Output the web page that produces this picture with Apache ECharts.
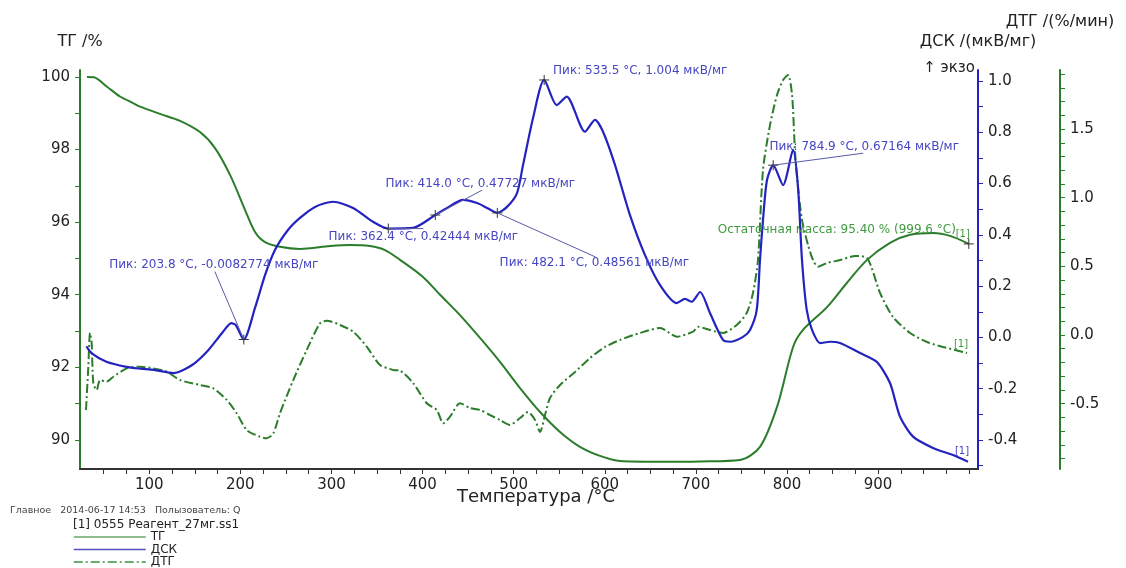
<!DOCTYPE html>
<html>
<head>
<meta charset="utf-8">
<script src="https://cdn.jsdelivr.net/npm/echarts@6.0.0/dist/echarts.min.js"></script>
<style>
  html, body { margin: 0; padding: 0; background: #ffffff; }
  #chart { width: 1126px; height: 568px; }
</style>
</head>
<body>
<div id="chart"></div>
<script>
// ---- Thermal analysis curves (temperature in °C) ----
// TG, mass %
const tgT = [31.7, 39.4, 53.6, 67.9, 82.2, 89.9, 111.8, 133.8, 155.7, 172.2, 188.7, 205.1, 216.1, 227.1, 243.5, 265.5, 298.4, 320.4, 342.3, 358.8, 375.3, 400.5, 419.2, 441.1, 463.1, 485.0, 507.0, 529.0, 550.9, 572.8, 594.8, 616.8, 660.7, 704.6, 748.5, 770.4, 789.1, 806.7, 817.6, 844.0, 865.9, 887.9, 913.1, 935.1, 960.3, 979.0, 999.6];
const tgV = [100.0, 99.99, 99.73, 99.46, 99.28, 99.18, 98.98, 98.79, 98.48, 98.04, 97.30, 96.34, 95.73, 95.45, 95.32, 95.26, 95.34, 95.37, 95.34, 95.23, 94.96, 94.49, 94.0, 93.44, 92.81, 92.15, 91.43, 90.77, 90.22, 89.81, 89.56, 89.42, 89.40, 89.41, 89.45, 89.81, 90.91, 92.56, 93.03, 93.66, 94.33, 94.96, 95.43, 95.65, 95.70, 95.62, 95.40];

// DSC, µV/mg
const dscT = [31, 37, 53, 75, 90, 105, 127, 135, 150, 165, 180, 190, 195, 203.8, 216.1, 227.1, 238.0, 252.3, 265.5, 282.0, 301.7, 323.7, 345.6, 362.4, 389.5, 414.0, 426.9, 444.4, 459.8, 470.8, 482.1, 492.7, 503.7, 510.3, 521.3, 533.5, 547.3, 558.2, 578.3, 589.3, 598.1, 611.3, 627.7, 644.2, 660.7, 679.0, 688.1, 695.5, 704.6, 715.5, 729.8, 737.5, 751.8, 759.5, 766.8, 770.4, 773.7, 778.1, 784.9, 795.7, 806.7, 812.1, 816.5, 821.7, 827.5, 836.3, 847.3, 858.2, 880.2, 898.5, 913.1, 924.1, 938.4, 960.3, 982.3, 998.7];
const dscV = [-0.035, -0.062, -0.095, -0.115, -0.122, -0.127, -0.139, -0.131, -0.10, -0.049, 0.017, 0.056, 0.048, -0.0082774, 0.115, 0.243, 0.341, 0.419, 0.466, 0.509, 0.529, 0.505, 0.451, 0.42444, 0.427, 0.47727, 0.505, 0.536, 0.524, 0.505, 0.48561, 0.509, 0.563, 0.672, 0.856, 1.004, 0.906, 0.939, 0.802, 0.848, 0.802, 0.672, 0.477, 0.321, 0.204, 0.134, 0.150, 0.139, 0.177, 0.095, -0.010, -0.017, 0.002, 0.029, 0.107, 0.302, 0.458, 0.614, 0.67164, 0.594, 0.731, 0.587, 0.302, 0.107, 0.029, -0.022, -0.017, -0.022, -0.061, -0.095, -0.178, -0.309, -0.387, -0.431, -0.459, -0.485];

// DTG, %/min
const dtgT = [30.6, 33.1, 35.0, 36.8, 38.6, 42.3, 46.0, 53.3, 60.6, 75.3, 89.9, 104.5, 119.2, 133.8, 155.7, 170.3, 185.0, 196.0, 207.0, 221.6, 228.9, 236.2, 243.5, 258.1, 272.9, 287.4, 294.8, 309.4, 324.0, 338.7, 353.3, 367.9, 375.3, 389.9, 404.6, 415.6, 422.8, 430.1, 441.1, 452.1, 463.1, 474.1, 485.0, 496.0, 507.0, 515.8, 523.5, 529.0, 534.4, 539.9, 550.9, 567.4, 583.8, 600.3, 616.8, 638.7, 660.7, 679.0, 696.9, 702.4, 715.5, 729.8, 744.9, 755.8, 762.7, 768.2, 773.7, 781.4, 789.1, 795.7, 801.2, 805.6, 808.9, 812.1, 816.5, 823.1, 828.6, 834.1, 843.9, 858.3, 874.7, 887.9, 902.2, 916.4, 935.1, 953.7, 971.3, 997.6];
const dtgV = [-0.546, -0.233, 0.015, -0.058, -0.350, -0.401, -0.328, -0.340, -0.304, -0.243, -0.231, -0.243, -0.267, -0.328, -0.364, -0.388, -0.473, -0.570, -0.692, -0.741, -0.752, -0.716, -0.570, -0.328, -0.109, 0.085, 0.104, 0.073, 0.024, -0.085, -0.218, -0.255, -0.260, -0.352, -0.497, -0.546, -0.643, -0.595, -0.497, -0.532, -0.546, -0.583, -0.619, -0.655, -0.605, -0.561, -0.619, -0.706, -0.583, -0.459, -0.364, -0.269, -0.168, -0.087, -0.036, 0.015, 0.051, -0.012, 0.024, 0.060, 0.036, 0.015, 0.073, 0.160, 0.306, 0.546, 1.202, 1.529, 1.748, 1.857, 1.894, 1.748, 1.326, 1.078, 0.838, 0.656, 0.546, 0.497, 0.524, 0.546, 0.575, 0.561, 0.306, 0.131, 0.015, -0.051, -0.087, -0.131];

// DSC peak temperatures that carry a "Пик" annotation
const peakTemps = [203.8, 362.4, 414.0, 482.1, 533.5, 784.9];

// Axis tick values
const xTickLabels = [100, 200, 300, 400, 500, 600, 700, 800, 900];
const xMinorTicks = [50, 75, 100, 125, 150, 175, 200, 225, 250, 275, 300, 325, 350, 375, 400, 425, 450, 475, 500, 525, 550, 575, 600, 625, 650, 675, 700, 725, 750, 775, 800, 825, 850, 875, 900, 925, 950, 975, 1000];
const tgTickLabels = [90, 92, 94, 96, 98, 100];
const tgTicks = [90, 91, 92, 93, 94, 95, 96, 97, 98, 99, 100];
const dscTickLabels = [-0.4, -0.2, 0.0, 0.2, 0.4, 0.6, 0.8, 1.0];
const dscTicks = [-0.5, -0.4, -0.3, -0.2, -0.1, 0.0, 0.1, 0.2, 0.3, 0.4, 0.5, 0.6, 0.7, 0.8, 0.9, 1.0];
const dtgTickLabels = [-0.5, 0.0, 0.5, 1.0, 1.5];
const dtgTicks = [-0.9, -0.8, -0.7, -0.6, -0.5, -0.4, -0.3, -0.2, -0.1, 0.0, 0.1, 0.2, 0.3, 0.4, 0.5, 0.6, 0.7, 0.8, 0.9, 1.0, 1.1, 1.2, 1.3, 1.4, 1.5, 1.6, 1.7, 1.8, 1.9];

// ---- styling ----
const FONT = 'DejaVu Sans';
const GREEN = '#2b7d2b';
const BLUE = '#2323c0';
const NOTE_BLUE = '#4646c4';
const NOTE_GREEN = '#3f9a3f';

// label placement (pixel offsets from the marker) for each peak note
const peakLayout = {
  203.8: { label: [-30, -75], leader: [-29, -68] },
  362.4: { label: [35, 8], leader: [35, 0] },
  414.0: { label: [45, -31], leader: [47, -25] },
  482.1: { label: [97, 50], leader: [98, 44] },
  533.5: { label: [96, -9], leader: null },
  784.9: { label: [91, -18], leader: [90, -12] }
};

const pair = (xs, ys) => xs.map((x, i) => [x, ys[i]]);
const tgData = pair(tgT, tgV);
const dscData = pair(dscT, dscV);
const dtgData = pair(dtgT, dtgV);

const crossSymbol = 'path://M0,5L10,5M5,0L5,10';

const peakPoints = peakTemps.map(t => {
  const v = dscV[dscT.indexOf(t)];
  const lay = peakLayout[t];
  return {
    coord: [t, v],
    label: {
      formatter: 'Пик: ' + t.toFixed(1) + ' °C, ' + String(v) + ' мкВ/мг',
      offset: lay.label
    }
  };
});

const lastTG = tgData[tgData.length - 1];

const chart = echarts.init(document.getElementById('chart'), null, { renderer: 'canvas' });

function yAxisCommon(color, labels, ticks, fmt, margin) {
  return {
    type: 'value',
    splitLine: { show: false },
    axisLine: { show: true, onZero: false, lineStyle: { color: color, width: 2 } },
    axisTick: { show: true, inside: false, length: 5, customValues: ticks, lineStyle: { color: color, width: 1 } },
    axisLabel: { show: true, customValues: labels, formatter: fmt, margin: margin, color: '#222', fontSize: 15, fontFamily: FONT },
    nameTextStyle: { color: '#222', fontSize: 16, fontFamily: FONT }
  };
}

const option = {
  animation: false,
  backgroundColor: '#ffffff',
  textStyle: { fontFamily: FONT },
  grid: { left: 80, right: 148, top: 70, bottom: 99, containLabel: false },
  xAxis: {
    type: 'value',
    min: 24,
    max: 1009.7,
    name: 'Температура /°C',
    nameLocation: 'middle',
    nameGap: 19,
    nameMoveOverlap: false,
    nameTextStyle: { color: '#222', fontSize: 18, fontFamily: FONT, padding: [0, 0, 0, 14] },
    splitLine: { show: false },
    axisLine: { show: true, onZero: false, lineStyle: { color: '#333', width: 2 } },
    axisTick: { show: true, length: 5, customValues: xMinorTicks, lineStyle: { color: '#333', width: 1 } },
    axisLabel: { customValues: xTickLabels, margin: 9, color: '#222', fontSize: 15, fontFamily: FONT }
  },
  yAxis: [
    Object.assign(yAxisCommon(GREEN, tgTickLabels, tgTicks, v => String(Math.round(v)), 10), {
      min: 89.2, max: 100.19, position: 'left',
      name: 'ТГ /%', nameLocation: 'end', nameGap: 20
    }),
    Object.assign(yAxisCommon(BLUE, dscTickLabels, dscTicks, v => v.toFixed(1), 10), {
      min: -0.5133, max: 1.0429, position: 'right', offset: 0,
      name: 'ДСК /(мкВ/мг)', nameLocation: 'end', nameGap: 20
    }),
    Object.assign(yAxisCommon(GREEN, dtgTickLabels, dtgTicks, v => v.toFixed(1), 10), {
      min: -0.976, max: 1.93, position: 'right', offset: 82,
      name: 'ДТГ /(%/мин)', nameLocation: 'end', nameGap: 40
    })
  ],
  legend: {
    orient: 'vertical',
    left: 73,
    top: 531,
    itemWidth: 72,
    itemHeight: 10,
    itemGap: 0.5,
    padding: 0,
    selectedMode: false,
    itemStyle: { opacity: 0 },
    textStyle: { color: '#222', fontSize: 12, lineHeight: 11, fontFamily: FONT },
    data: [
      { name: 'ТГ', itemStyle: { opacity: 0 }, lineStyle: { color: '#6aaa6a', width: 1.5 } },
      { name: 'ДСК', itemStyle: { opacity: 0 }, lineStyle: { color: '#5252c4', width: 1.5 } },
      { name: 'ДТГ', itemStyle: { opacity: 0 }, lineStyle: { color: '#3f8f3f', width: 1.5 } }
    ]
  },
  series: [
    {
      name: 'ДТГ',
      type: 'line',
      yAxisIndex: 2,
      data: dtgData,
      symbol: 'none',
      smooth: 0.25,
      silent: true,
      z: 2,
      lineStyle: { color: GREEN, width: 2, type: [9, 3, 2, 3] },
      itemStyle: { color: GREEN },
      endLabel: { show: true, formatter: '[1]', color: NOTE_GREEN, fontSize: 10, distance: 0, align: 'center', offset: [-6, -9] }
    },
    {
      name: 'ТГ',
      type: 'line',
      yAxisIndex: 0,
      data: tgData,
      symbol: 'none',
      smooth: 0.3,
      silent: true,
      z: 3,
      lineStyle: { color: GREEN, width: 2 },
      itemStyle: { color: GREEN },
      endLabel: { show: true, formatter: '[1]', color: NOTE_GREEN, fontSize: 10, distance: 0, align: 'center', offset: [-6, -9] },
      markPoint: {
        silent: true,
        symbol: crossSymbol,
        symbolSize: 10,
        itemStyle: { color: 'none', borderColor: '#333', borderWidth: 1 },
        label: {
          show: true, position: 'inside', align: 'center', verticalAlign: 'middle',
          color: NOTE_GREEN, fontSize: 12, fontFamily: FONT
        },
        data: [{
          coord: lastTG,
          label: {
            formatter: 'Остаточная масса: ' + lastTG[1].toFixed(2) + ' % (' + lastTG[0].toFixed(1) + ' °C)',
            offset: [-132, -14]
          }
        }]
      }
    },
    {
      name: 'ДСК',
      type: 'line',
      yAxisIndex: 1,
      data: dscData,
      symbol: 'none',
      smooth: 0.25,
      silent: true,
      z: 4,
      lineStyle: { color: BLUE, width: 2.2 },
      itemStyle: { color: BLUE },
      endLabel: { show: true, formatter: '[1]', color: NOTE_BLUE, fontSize: 10, distance: 0, align: 'center', offset: [-6, -10] },
      markPoint: {
        silent: true,
        symbol: crossSymbol,
        symbolSize: 10,
        itemStyle: { color: 'none', borderColor: '#333', borderWidth: 1 },
        label: {
          show: true, position: 'inside', align: 'center', verticalAlign: 'middle',
          color: NOTE_BLUE, fontSize: 12, fontFamily: FONT
        },
        data: peakPoints
      }
    }
  ]
};

chart.setOption(option);

// Static captions plus leader lines from each DSC peak marker to its note
const graphics = [
  {
    type: 'text', x: 975, y: 68,
    style: { text: '↑ экзо', font: '15px "' + FONT + '"', fill: '#222', align: 'right', verticalAlign: 'middle' }
  },
  {
    type: 'text', x: 10, y: 511,
    style: { text: 'Главное   2014-06-17 14:53   Полызователь: Q', font: '9.5px "' + FONT + '"', fill: '#444', align: 'left', verticalAlign: 'middle' }
  },
  {
    type: 'text', x: 73, y: 525,
    style: { text: '[1] 0555 Реагент_27мг.ss1', font: '12px "' + FONT + '"', fill: '#222', align: 'left', verticalAlign: 'middle' }
  }
];

peakTemps.forEach(t => {
  const lay = peakLayout[t];
  if (!lay.leader) return;
  const v = dscV[dscT.indexOf(t)];
  const p = chart.convertToPixel({ xAxisIndex: 0, yAxisIndex: 1 }, [t, v]);
  graphics.push({
    type: 'line', silent: true, z: 10,
    shape: { x1: p[0], y1: p[1], x2: p[0] + lay.leader[0], y2: p[1] + lay.leader[1] },
    style: { stroke: '#5a5aa8', lineWidth: 1 }
  });
});

chart.setOption({ graphic: graphics });
</script>
</body>
</html>
